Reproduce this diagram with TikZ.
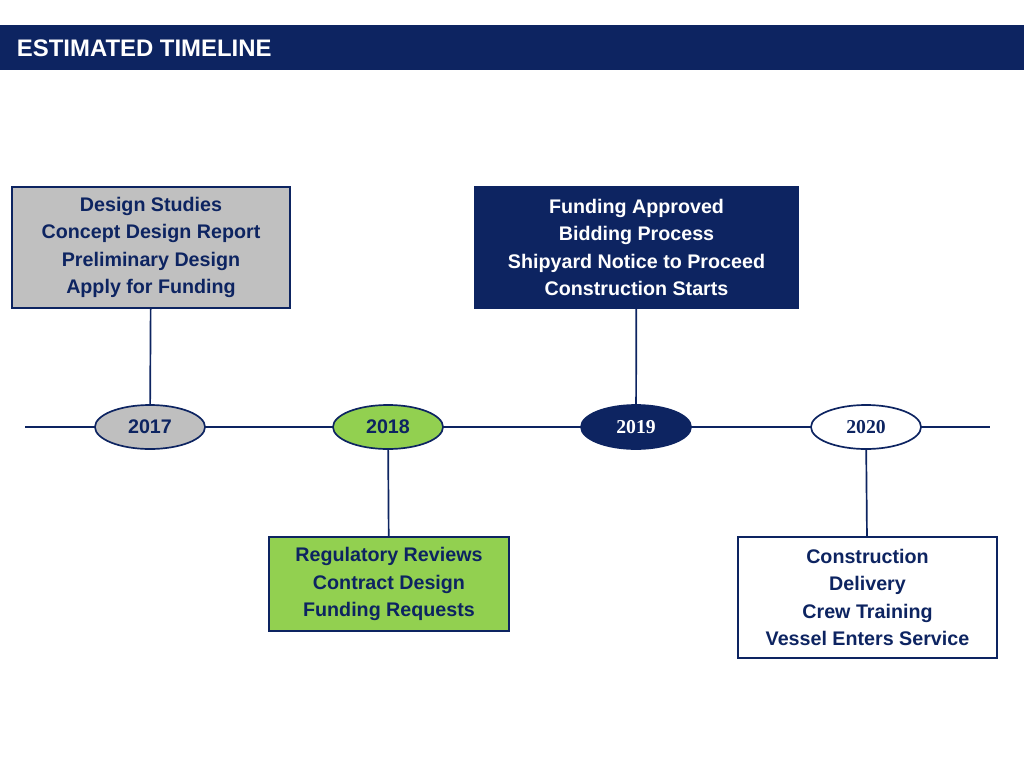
\documentclass[tikz,border=0pt]{standalone}
\usepackage{fontspec}
\setmainfont{Liberation Sans}
\newfontfamily\yearfont{Liberation Serif}
\usetikzlibrary{positioning, shapes.geometric}
\definecolor{navy}{HTML}{0D2461}
\definecolor{boxgray}{HTML}{C0C0C0}
\definecolor{boxgreen}{HTML}{92D050}
\definecolor{yeargray}{HTML}{BFBFBF}

\tikzset{
  stagebox/.style={draw=navy, line width=1.2pt, align=center, inner sep=0pt,
    font=\fontsize{14}{19.5}\selectfont\bfseries, text=navy},
  yearnode/.style={draw=navy, ellipse, line width=1.2pt, minimum width=2.75cm,
    minimum height=1.1cm, font=\fontsize{14}{16}\selectfont\bfseries, text=navy},
  link/.style={draw=navy, line width=1.2pt}
}

\begin{document}
\begin{tikzpicture}[x=0.025cm, y=-0.025cm]
    \useasboundingbox (0,0) rectangle (1024,768);
    % header
    \fill[navy] (0,25) rectangle (1024,70);
    \node[anchor=west, text=white, font=\fontsize{17}{20}\selectfont\bfseries] (title) at (12,48) {ESTIMATED TIMELINE};

    % timeline
    \coordinate (tl) at (25,427);
    \coordinate (tr) at (990,427);
    \draw[link] (tl) -- (tr);

    \node[yearnode, fill=yeargray] (y17) at (150,427) {2017};
    \node[yearnode, fill=boxgreen] (y18) at (388,427) {2018};
    \node[yearnode, fill=navy, text=white, font=\fontsize{14}{16}\selectfont\yearfont\bfseries] (y19) at (636,427) {2019};
    \node[yearnode, fill=white, font=\fontsize{14}{16}\selectfont\yearfont\bfseries] (y20) at (866,427) {2020};

    % stage boxes
    \node[stagebox, fill=boxgray, minimum width=278*0.025cm, minimum height=121*0.025cm] (s17) at (151,247.5)
      {Design Studies\\Concept Design Report\\Preliminary Design\\Apply for Funding};
    \node[stagebox, fill=navy, text=white, minimum width=323*0.025cm, minimum height=121*0.025cm] (s19) at (636.5,247.5)
      {Funding Approved\\Bidding Process\\Shipyard Notice to Proceed\\Construction Starts};
    \node[stagebox, fill=boxgreen, minimum width=240*0.025cm, minimum height=94*0.025cm] (s18) at (389,584)
      {Regulatory Reviews\\Contract Design\\Funding Requests};
    \node[stagebox, fill=white, minimum width=259*0.025cm, minimum height=121*0.025cm] (s20) at (867.5,597.5)
      {Construction\\Delivery\\Crew Training\\Vessel Enters Service};

    % connectors
    \draw[link] (s17) -- (y17);
    \draw[link] (s19) -- (y19);
    \draw[link] (y18) -- (s18);
    \draw[link] (y20) -- (s20);
\end{tikzpicture}
\end{document}
